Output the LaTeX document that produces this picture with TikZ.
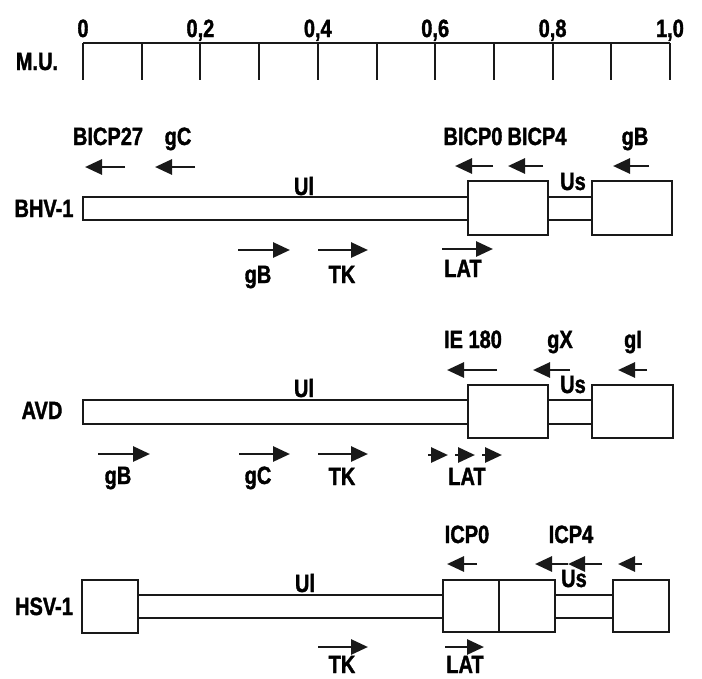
\documentclass[tikz,border=0pt]{standalone}
\usepackage{fontspec}
\setmainfont{Liberation Sans}[FakeStretch=0.8, BoldFeatures={FakeBold=1.4}]
\usetikzlibrary{arrows.meta}
\begin{document}
\begin{tikzpicture}[x=1pt,y=-1pt,
  lbl/.style={font=\fontsize{25}{25}\selectfont\bfseries, inner sep=0pt, anchor=base},
  box/.style={draw=black!90, line width=2pt, fill=white},
  band/.style={draw=black!90, line width=2pt},
  arr/.style={draw=black!90, line width=2.8pt, -{Triangle[length=17pt,width=15pt]}},
  tick/.style={draw=black!90, line width=2pt}]
\useasboundingbox (0,0) rectangle (702,678);
% ---------- scale ----------
\draw[tick] (83,43) -- (670,43);
\foreach \k in {0,...,10} {\draw[tick] ({83+58.7*\k},43) -- ({83+58.7*\k},80);}
\node[lbl] (s0) at (83,37) {0};
\node[lbl] (s2) at ({83+58.7*2},37) {0,2};
\node[lbl] (s4) at ({83+58.7*4},37) {0,4};
\node[lbl] (s6) at ({83+58.7*6},37) {0,6};
\node[lbl] (s8) at ({83+58.7*8},37) {0,8};
\node[lbl] (s10) at (670,37) {1,0};
\node[lbl] (mu) at (37,70) {M.U.};
% ---------- BHV-1 ----------
\node[lbl] (bhv) at (44,217) {BHV-1};
\draw[band] (83,197) rectangle (468,220);
\draw[band] (548,197) -- (592,197) (548,220) -- (592,220);
\draw[box] (468,181) rectangle (548,235);
\draw[box] (592,181) rectangle (672,235);
\node[lbl] (bUl) at (304,195) {Ul};
\node[lbl] (bUs) at (573,190) {Us};
\node[lbl] (b27) at (108,145) {BICP27};
\node[lbl] (bgC) at (178,145) {gC};
\node[lbl] (bP0) at (473,145) {BICP0};
\node[lbl] (bP4) at (537,145) {BICP4};
\node[lbl] (bgBt) at (635,145) {gB};
\draw[arr] (125,167) -- (85,167);
\draw[arr] (195,167) -- (155,167);
\draw[arr] (493,166) -- (455,166);
\draw[arr] (543,166) -- (508,166);
\draw[arr] (649,166) -- (613,166);
\draw[arr] (238,250) -- (290,250);
\draw[arr] (318,250) -- (368,250);
\draw[arr] (442,249) -- (493,249);
\node[lbl] (bgB) at (258,283) {gB};
\node[lbl] (bTK) at (342,283) {TK};
\node[lbl] (bLAT) at (463,277) {LAT};
% ---------- AVD ----------
\node[lbl] (avd) at (42,419) {AVD};
\draw[band] (83,400) rectangle (468,424);
\draw[band] (548,400) -- (592,400) (548,424) -- (592,424);
\draw[box] (468,385) rectangle (548,438);
\draw[box] (592,385) rectangle (673,438);
\node[lbl] (aUl) at (304,397) {Ul};
\node[lbl] (aUs) at (573,393) {Us};
\node[lbl] (aIE) at (473,348) {IE 180};
\node[lbl] (agX) at (560,348) {gX};
\node[lbl] (agI) at (633,348) {gI};
\draw[arr] (497,370) -- (447,370);
\draw[arr] (570,370) -- (533,370);
\draw[arr] (647,370) -- (618,370);
\draw[arr] (98,454) -- (150,454);
\draw[arr] (239,454) -- (290,454);
\draw[arr] (318,454) -- (368,454);
\draw[arr] (428,455) -- (448,455);
\draw[arr] (455,455) -- (475,455);
\draw[arr] (482,455) -- (502,455);
\node[lbl] (agB) at (118,484) {gB};
\node[lbl] (agC) at (258,484) {gC};
\node[lbl] (aTK) at (342,485) {TK};
\node[lbl] (aLAT) at (467,485) {LAT};
% ---------- HSV-1 ----------
\node[lbl] (hsv) at (44,615) {HSV-1};
\draw[band] (138,595) -- (443,595) (138,618) -- (443,618);
\draw[band] (555,595) -- (613,595) (555,618) -- (613,618);
\draw[box] (82,580) rectangle (138,633);
\draw[box] (443,580) rectangle (555,632);
\draw[band] (499,580) -- (499,632);
\draw[box] (613,580) rectangle (669,632);
\node[lbl] (hUl) at (305,592) {Ul};
\node[lbl] (hUs) at (574,587) {Us};
\node[lbl] (hP0) at (467,543) {ICP0};
\node[lbl] (hP4) at (571,543) {ICP4};
\draw[arr] (477,564) -- (447,564);
\draw[arr] (568,564) -- (535,564);
\draw[arr] (602,564) -- (568,564);
\draw[arr] (642,564) -- (618,564);
\draw[arr] (318,647) -- (368,647);
\draw[arr] (445,647) -- (484,647);
\node[lbl] (hTK) at (342,673) {TK};
\node[lbl] (hLAT) at (465,673) {LAT};
\end{tikzpicture}
\end{document}
